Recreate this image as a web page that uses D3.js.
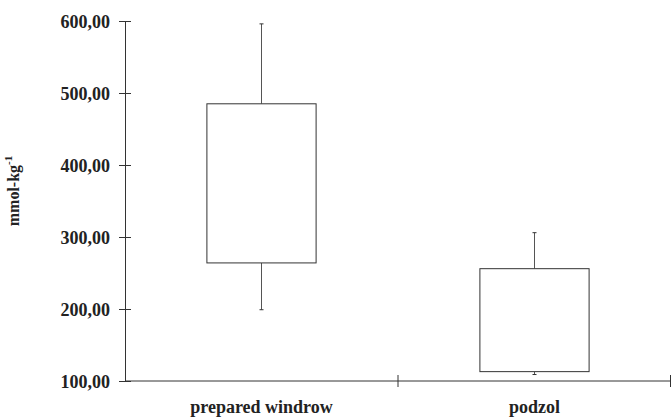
<!DOCTYPE html>
<html>
<head>
<meta charset="utf-8">
<script src="https://cdn.jsdelivr.net/npm/d3@7"></script>
<style>
  body { margin: 0; background: #fff; }
  svg text { font-family: "Liberation Serif", "Times New Roman", serif !important; font-weight: bold; fill: #222; }
</style>
</head>
<body>
<svg id="chart" width="672" height="419"></svg>
<script>
// data
const categories = ["prepared windrow", "podzol"];
const whiskerLow = [199, 109];
const boxLow = [264, 113];
const boxHigh = [485, 256];
const whiskerHigh = [596, 306];
const yTicks = [100, 200, 300, 400, 500, 600];

const width = 672;
const height = 419;
const margin = { top: 21, right: 1, bottom: 38, left: 125 };

const svg = d3.select("#chart");

const x = d3.scaleBand()
  .domain(categories)
  .range([margin.left, width - margin.right])
  .paddingInner(0)
  .paddingOuter(0);

const y = d3.scaleLinear()
  .domain([100, 600])
  .range([height - margin.bottom, margin.top]);

const fmt = d => d3.format(".2f")(d).replace(".", ",");

// y axis
const yAxis = svg.append("g")
  .attr("transform", `translate(${margin.left},0)`)
  .call(d3.axisLeft(y).tickValues(yTicks).tickFormat(fmt).tickSizeInner(6).tickSizeOuter(0).tickPadding(9));
yAxis.attr("font-family", null).attr("font-size", null);
yAxis.selectAll(".tick line").attr("x2", 6).attr("x1", -6);
yAxis.selectAll("text").attr("font-size", 18).attr("dy", "0.35em");

// x axis with tick marks at band edges
const xAxis = svg.append("g")
  .attr("transform", `translate(0,${y(100)})`);
xAxis.append("line")
  .attr("x1", margin.left).attr("x2", width - margin.right)
  .attr("stroke", "#333");
const edges = categories.map(c => x(c)).concat([x(categories[categories.length - 1]) + x.bandwidth()]);
xAxis.selectAll(".edge").data(edges.slice(1)).join("line")
  .attr("class", "edge")
  .attr("x1", d => Math.min(d, width - 1.5)).attr("x2", d => Math.min(d, width - 1.5))
  .attr("y1", -6).attr("y2", 6)
  .attr("stroke", "#333");
xAxis.selectAll(".lab").data(categories).join("text")
  .attr("class", "lab")
  .attr("x", d => x(d) + x.bandwidth() / 2)
  .attr("y", 32)
  .attr("text-anchor", "middle")
  .attr("font-size", 18)
  .text(d => d);

yAxis.select(".domain").attr("stroke", "#333");
yAxis.selectAll(".tick line").attr("stroke", "#333");

// boxes
const boxW = x.bandwidth() * 0.4;
const groups = svg.selectAll(".box").data(categories).join("g").attr("class", "box");

groups.append("line")
  .attr("x1", d => x(d) + x.bandwidth() / 2).attr("x2", d => x(d) + x.bandwidth() / 2)
  .attr("y1", (d, i) => y(whiskerHigh[i])).attr("y2", (d, i) => y(boxHigh[i]))
  .attr("stroke", "#555");
groups.append("line")
  .attr("x1", d => x(d) + x.bandwidth() / 2).attr("x2", d => x(d) + x.bandwidth() / 2)
  .attr("y1", (d, i) => y(whiskerLow[i])).attr("y2", (d, i) => y(boxLow[i]))
  .attr("stroke", "#555");
groups.append("line")
  .attr("x1", d => x(d) + x.bandwidth() / 2 - 2).attr("x2", d => x(d) + x.bandwidth() / 2 + 2)
  .attr("y1", (d, i) => y(whiskerHigh[i])).attr("y2", (d, i) => y(whiskerHigh[i]))
  .attr("stroke", "#333");
groups.append("line")
  .attr("x1", d => x(d) + x.bandwidth() / 2 - 2).attr("x2", d => x(d) + x.bandwidth() / 2 + 2)
  .attr("y1", (d, i) => y(whiskerLow[i])).attr("y2", (d, i) => y(whiskerLow[i]))
  .attr("stroke", "#333");
groups.append("rect")
  .attr("x", d => x(d) + (x.bandwidth() - boxW) / 2)
  .attr("width", boxW)
  .attr("y", (d, i) => y(boxHigh[i]))
  .attr("height", (d, i) => y(boxLow[i]) - y(boxHigh[i]))
  .attr("fill", "#fff")
  .attr("stroke", "#333");

// y label
const yl = svg.append("text")
  .attr("transform", `translate(19,${(y(100) + y(600)) / 2 - 10}) rotate(-90)`)
  .attr("text-anchor", "middle")
  .attr("font-size", 16);
yl.append("tspan").text("mmol-kg");
yl.append("tspan").attr("dy", -7).attr("font-size", 11).text("-1");
</script>
</body>
</html>
